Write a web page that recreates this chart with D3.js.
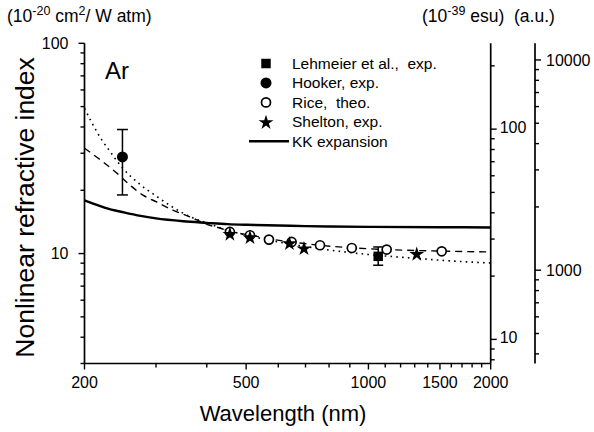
<!DOCTYPE html>
<html><head><meta charset="utf-8">
<script src="https://cdn.jsdelivr.net/npm/d3@7/dist/d3.min.js"></script>
<style>
body{margin:0;background:#fff;}
text{font-family:"Liberation Sans",Arial,sans-serif;fill:#000;}
</style></head>
<body><svg id="c" width="594" height="432"></svg>
<script>
// ---- data ----
const xTicksMajor = [200, 500, 1000, 1500, 2000];
const leftTickLabels = [10, 100];
const esuTickLabels = [10, 100];
const auTickLabels = [1000, 10000];

const hookerWl = [248];
const hookerVal = [28.8];
const hookerLo = [19.0];
const hookerHi = [38.9];

const lehmeierWl = [1057];
const lehmeierVal = [9.7];
const lehmeierLo = [8.8];
const lehmeierHi = [10.75];

const riceWl = [456, 511, 569, 647, 760, 910, 1109, 1515];
const riceVal = [12.67, 12.22, 11.65, 11.36, 10.95, 10.63, 10.45, 10.25];

const sheltonWl = [456, 511, 639, 694, 1315];
const sheltonVal = [12.45, 12.0, 11.23, 10.63, 10.0];

const kkWl = [200, 210, 225, 250, 275, 300, 350, 400, 450, 500, 600, 700, 800, 1000, 1500, 2000];
const kkVal = [17.9, 17.3, 16.5, 15.7, 15.1, 14.7, 14.25, 14.0, 13.8, 13.7, 13.6, 13.5, 13.45, 13.4, 13.35, 13.3];

const dashWl = [200, 222, 238, 259, 278, 301, 330, 362, 399, 432, 456, 511, 569, 647, 760, 910, 1109, 1515, 2000];
const dashVal = [31.7, 27.3, 24.5, 21.15, 19.0, 17.6, 16.1, 15.0, 13.8, 13.2, 12.75, 12.25, 11.75, 11.35, 10.95, 10.65, 10.45, 10.27, 10.18];

const dotWl = [200, 208, 220, 230, 247, 275, 300, 330, 366, 400, 450, 500, 600, 700, 800, 1000, 1300, 1600, 2000];
const dotVal = [49, 42.3, 35.0, 31.0, 25.8, 21.2, 18.8, 16.6, 14.9, 14.0, 12.9, 12.25, 11.35, 10.8, 10.4, 9.9, 9.5, 9.22, 9.02];

const legendLabels = ["Lehmeier et al.,  exp.", "Hooker, exp.", "Rice,  theo.", "Shelton, exp.", "KK expansion"];

// ---- scales ----
const svg = d3.select("#c");
const X0 = 84.5, X1 = 490.7, Y0 = 363.5, Y1 = 43.3;
const x = d3.scaleLog().domain([200, 2000]).range([X0, X1]);
const y = d3.scaleLog().domain([3, 100]).range([Y0, Y1]);
const yEsu = d3.scaleLog().domain([3 * 2.56, 100 * 2.56]).range([Y0, Y1]);
const yAu = d3.scaleLog().domain([3 * 120, 100 * 120]).range([Y0, Y1]);
const AUX = 535;

function logTicks(lo, hi) {
  const out = [];
  for (let d = Math.pow(10, Math.floor(Math.log10(lo))); d <= hi; d *= 10) {
    for (let k = 1; k < 10; k++) { const v = k * d; if (v >= lo * 0.999 && v <= hi * 1.001) out.push(v); }
  }
  return out;
}

const axisW = 1.7;
// left axis
const gL = svg.append("g").attr("transform", `translate(${X0},0)`);
gL.append("line").attr("x1", 0).attr("x2", 0).attr("y1", Y1).attr("y2", Y0).attr("stroke", "#000").attr("stroke-width", axisW);
logTicks(3, 100).forEach(v => {
  const maj = leftTickLabels.includes(v);
  gL.append("line").attr("x1", 0).attr("x2", maj ? -6 : -4).attr("y1", y(v)).attr("y2", y(v)).attr("stroke", "#000").attr("stroke-width", 1.4);
  if (maj) gL.append("text").attr("x", -16).attr("y", y(v)).attr("dy", "0.36em").attr("text-anchor", "end").attr("font-size", 16).text(v);
});
// bottom axis
const gB = svg.append("g").attr("transform", `translate(0,${Y0})`);
gB.append("line").attr("x1", X0).attr("x2", X1).attr("y1", 0).attr("y2", 0).attr("stroke", "#000").attr("stroke-width", axisW);
d3.range(200, 2001, 100).forEach(v => {
  const maj = xTicksMajor.includes(v);
  gB.append("line").attr("x1", x(v)).attr("x2", x(v)).attr("y1", 0).attr("y2", maj ? 6 : 4).attr("stroke", "#000").attr("stroke-width", 1.4);
});
xTicksMajor.forEach(v => {
  gB.append("text").attr("x", x(v)).attr("y", 24.5).attr("text-anchor", "middle").attr("font-size", 16).text(v);
});
// esu axis (right frame)
const gE = svg.append("g").attr("transform", `translate(${X1},0)`);
gE.append("line").attr("x1", 0).attr("x2", 0).attr("y1", Y1).attr("y2", Y0).attr("stroke", "#000").attr("stroke-width", axisW);
logTicks(7.68, 256).forEach(v => {
  const maj = esuTickLabels.includes(v);
  gE.append("line").attr("x1", 0).attr("x2", maj ? 6 : 4).attr("y1", yEsu(v)).attr("y2", yEsu(v)).attr("stroke", "#000").attr("stroke-width", 1.4);
  if (maj) gE.append("text").attr("x", 9).attr("y", yEsu(v) - 2).attr("dy", "0.36em").attr("font-size", 16).text(v);
});
// a.u. axis
const gA = svg.append("g").attr("transform", `translate(${AUX},0)`);
gA.append("line").attr("x1", 0).attr("x2", 0).attr("y1", Y1).attr("y2", Y0).attr("stroke", "#000").attr("stroke-width", axisW);
logTicks(360, 12000).forEach(v => {
  const maj = auTickLabels.includes(v);
  gA.append("line").attr("x1", 0).attr("x2", maj ? 6 : 4).attr("y1", yAu(v)).attr("y2", yAu(v)).attr("stroke", "#000").attr("stroke-width", 1.4);
  if (maj) gA.append("text").attr("x", 11).attr("y", yAu(v)).attr("dy", "0.36em").attr("font-size", 16).text(v);
});

// titles
svg.append("text").attr("transform", `translate(34,${(Y0 + Y1) / 2 + 4}) rotate(-90)`).attr("text-anchor", "middle").attr("font-size", 26.5).text("Nonlinear refractive index");
svg.append("text").attr("x", 283).attr("y", 421).attr("text-anchor", "middle").attr("font-size", 22).text("Wavelength (nm)");
const t1 = svg.append("text").attr("x", 7).attr("y", 22).attr("font-size", 17.5);
t1.append("tspan").text("(10");
t1.append("tspan").attr("dy", -7).attr("font-size", 12.5).text("-20");
t1.append("tspan").attr("dy", 7).text(" cm");
t1.append("tspan").attr("dy", -7).attr("font-size", 12.5).text("2");
t1.append("tspan").attr("dy", 7).text("/ W atm)");
const t2 = svg.append("text").attr("x", 422).attr("y", 22).attr("font-size", 17.5).style("white-space", "pre");
t2.append("tspan").text("(10");
t2.append("tspan").attr("dy", -7).attr("font-size", 12.5).text("-39");
t2.append("tspan").attr("dy", 7).text(" esu)  (a.u.)");
svg.append("text").attr("x", 105).attr("y", 79).attr("font-size", 24).text("Ar");

// curves
const line = d3.line().x(d => x(d[0])).y(d => y(d[1])).curve(d3.curveMonotoneX);
const dashData = dashWl.map((w, i) => [w, dashVal[i]]);
const dotData = dotWl.map((w, i) => [w, dotVal[i]]);
const kkData = kkWl.map((w, i) => [w, kkVal[i]]);
svg.append("path").attr("d", line(dotData)).attr("fill", "none").attr("stroke", "#000").attr("stroke-width", 1.6).attr("stroke-dasharray", "1.6,4.2");
svg.append("path").attr("d", line(dashData)).attr("fill", "none").attr("stroke", "#000").attr("stroke-width", 1.4).attr("stroke-dasharray", "7,5");
svg.append("path").attr("d", line(kkData)).attr("fill", "none").attr("stroke", "#000").attr("stroke-width", 2.4);

// error bars
function errBar(wl, lo, hi, cap) {
  const g = svg.append("g").attr("stroke", "#000").attr("stroke-width", 1.5);
  g.append("line").attr("x1", x(wl)).attr("x2", x(wl)).attr("y1", y(lo)).attr("y2", y(hi));
  g.append("line").attr("x1", x(wl) - cap).attr("x2", x(wl) + cap).attr("y1", y(lo)).attr("y2", y(lo));
  g.append("line").attr("x1", x(wl) - cap).attr("x2", x(wl) + cap).attr("y1", y(hi)).attr("y2", y(hi));
}
hookerWl.forEach((w, i) => errBar(w, hookerLo[i], hookerHi[i], 5.5));
lehmeierWl.forEach((w, i) => errBar(w, lehmeierLo[i], lehmeierHi[i], 5));

const starPath = d3.symbol().type(d3.symbolStar).size(68)();
const sqPath = d3.symbol().type(d3.symbolSquare).size(90)();

// markers
riceWl.forEach((w, i) => {
  svg.append("circle").attr("cx", x(w)).attr("cy", y(riceVal[i])).attr("r", 4.5).attr("fill", "#fff").attr("stroke", "#000").attr("stroke-width", 1.7);
});
sheltonWl.forEach((w, i) => {
  svg.append("path").attr("d", starPath).attr("transform", `translate(${x(w)},${y(sheltonVal[i]) + 0.8})`).attr("fill", "#000");
});
lehmeierWl.forEach((w, i) => {
  svg.append("path").attr("d", sqPath).attr("transform", `translate(${x(w)},${y(lehmeierVal[i])})`).attr("fill", "#000");
});
hookerWl.forEach((w, i) => {
  svg.append("circle").attr("cx", x(w)).attr("cy", y(hookerVal[i])).attr("r", 5.5).attr("fill", "#000");
});

// legend
const lgX = 266, lgT = 292, rows = [63.5, 82.9, 102.4, 121.8, 141.2];
svg.append("path").attr("d", sqPath).attr("transform", `translate(${lgX},${rows[0]})`).attr("fill", "#000");
svg.append("circle").attr("cx", lgX).attr("cy", rows[1]).attr("r", 5.5).attr("fill", "#000");
svg.append("circle").attr("cx", lgX).attr("cy", rows[2]).attr("r", 4.5).attr("fill", "#fff").attr("stroke", "#000").attr("stroke-width", 1.7);
svg.append("path").attr("d", starPath).attr("transform", `translate(${lgX},${rows[3] + 0.8})`).attr("fill", "#000");
svg.append("line").attr("x1", 249).attr("x2", 289).attr("y1", rows[4]).attr("y2", rows[4]).attr("stroke", "#000").attr("stroke-width", 2.4);
legendLabels.forEach((t, i) => {
  svg.append("text").attr("x", lgT).attr("y", rows[i]).attr("dy", "0.36em").attr("font-size", 15.5).style("white-space", "pre").text(t);
});
</script></body></html>
